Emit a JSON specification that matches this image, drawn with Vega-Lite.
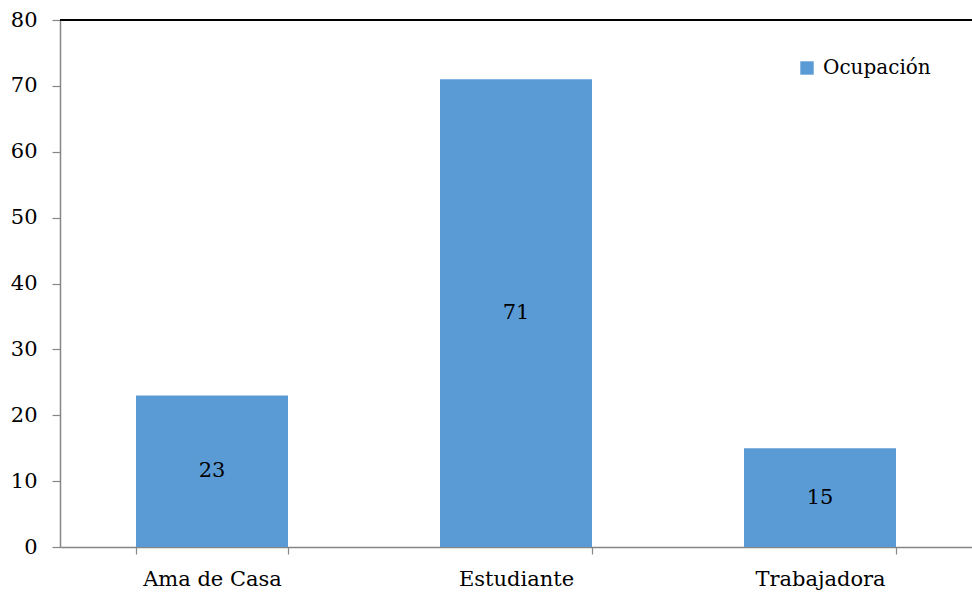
{
  "$schema": "https://vega.github.io/schema/vega-lite/v6.json",
  "autosize": {"type": "none"},
  "width": 912,
  "height": 527,
  "padding": {"left": 60, "top": 20, "right": 0, "bottom": 48},
  "background": "white",
  "config": {
    "view": {"stroke": null},
    "axis": {"grid": false, "labelFont": "DejaVu Serif", "labelColor": "black", "labelFontSize": 21, "domainColor": "#868686", "tickColor": "#868686", "domainWidth": 1.5, "tickWidth": 1.2},
    "legend": {"labelFont": "DejaVu Serif"},
    "text": {"font": "DejaVu Serif"}
  },
  "data": {
    "values": [
      {"ocupacion": "Ama de Casa", "valor": 23, "serie": "Ocupación"},
      {"ocupacion": "Estudiante", "valor": 71, "serie": "Ocupación"},
      {"ocupacion": "Trabajadora", "valor": 15, "serie": "Ocupación"}
    ]
  },
  "resolve": {"scale": {"y": "independent"}},
  "layer": [
    {
      "mark": {"type": "bar"},
      "encoding": {
        "x": {"field": "ocupacion", "type": "nominal", "sort": null,
              "scale": {"paddingInner": 0.5, "paddingOuter": 0.25},
              "axis": {"title": null, "labelAngle": 0, "tickBand": "extent", "tickSize": 7, "labelPadding": 14}},
        "y": {"field": "valor", "type": "quantitative",
              "scale": {"domain": [0, 80]},
              "axis": {"title": null, "values": [0,10,20,30,40,50,60,70,80], "tickSize": 8, "labelPadding": 15}},
        "color": {"field": "serie", "type": "nominal",
                  "scale": {"range": ["#5B9BD5"]},
                  "legend": {"title": null, "orient": "none", "legendX": 737, "legendY": 38, "symbolType": "square", "symbolSize": 180, "symbolOpacity": 1, "labelFontSize": 20, "labelColor": "black", "labelOffset": 6}}
      }
    },
    {
      "mark": {"type": "text", "fontSize": 21, "color": "black", "baseline": "middle"},
      "encoding": {
        "x": {"field": "ocupacion", "type": "nominal", "sort": null},
        "y": {"field": "valor", "type": "quantitative", "scale": {"domain": [0, 160]}, "axis": null},
        "text": {"field": "valor", "type": "quantitative"}
      }
    },
    {
      "mark": {"type": "rule", "color": "black", "strokeWidth": 2},
      "encoding": {"y": {"datum": 80, "scale": {"domain": [0, 80]}, "axis": null}}
    }
  ]
}
